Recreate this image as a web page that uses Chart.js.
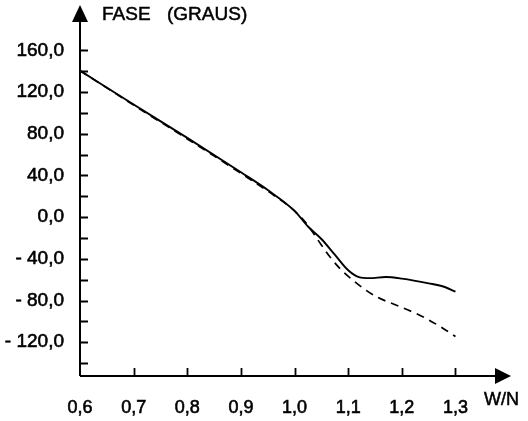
<!DOCTYPE html>
<html>
<head>
<meta charset="utf-8">
<script src="https://cdn.jsdelivr.net/npm/chart.js@4.4.1/dist/chart.umd.min.js"></script>
<style>
  body { margin: 0; background: #fff; }
  #wrap { width: 528px; height: 421px; }
</style>
</head>
<body>
<div id="wrap"><canvas id="faseChart" width="528" height="421"></canvas></div>
<script>
// frequency ratio W/N
const xTicks = [0.6, 0.7, 0.8, 0.9, 1.0, 1.1, 1.2, 1.3];
// phase ticks, every 20 (labels only every 40)
const yTicks = [-140, -120, -100, -80, -60, -40, -20, 0, 20, 40, 60, 80, 100, 120, 140, 160];

// solid curve
const solidX = [0.6, 0.7, 0.8, 0.9, 0.95, 1.0, 1.025, 1.05, 1.075, 1.1, 1.12, 1.14, 1.17, 1.2, 1.25, 1.28, 1.3];
const solidY = [140.5, 108, 76, 43, 26, 6, -9, -21, -36, -51, -57.5, -58.5, -57.5, -59, -63.5, -67, -71.5];
// dashed curve
const dashX = [0.6, 0.7, 0.8, 0.9, 0.95, 1.0, 1.025, 1.045, 1.065, 1.085, 1.11, 1.13, 1.155, 1.19, 1.235, 1.27, 1.3];
const dashY = [140.5, 107.5, 75, 42, 25, 6, -8, -23, -37.5, -49.5, -61, -69, -77, -84.5, -94.5, -104.5, -114.5];

function fmt(v) {
  var s = Math.abs(v).toFixed(1).replace('.', ',');
  return v < 0 ? '- ' + s : s;
}

const FONT = "'Liberation Sans', Arial, sans-serif";

// axes with arrows, inward tick marks, title texts
const axesPlugin = {
  id: 'axesPlugin',
  afterDraw: function(chart) {
    const c = chart.ctx;
    const xs = chart.scales.x, ys = chart.scales.y;
    const x0 = xs.getPixelForValue(0.6);
    const y0 = ys.getPixelForValue(ys.min);
    const top = chart.chartArea.top;
    const right = chart.chartArea.right;
    c.save();
    c.strokeStyle = '#000';
    c.fillStyle = '#000';
    c.lineWidth = 2;
    c.beginPath();
    c.moveTo(x0, y0); c.lineTo(x0, top + 14);
    c.moveTo(x0, y0); c.lineTo(right - 14, y0);
    c.stroke();
    // arrow heads
    c.beginPath();
    c.moveTo(x0, top); c.lineTo(x0 - 8, top + 17); c.lineTo(x0 + 8, top + 17); c.closePath();
    c.fill();
    c.beginPath();
    c.moveTo(right, y0); c.lineTo(right - 16, y0 - 8); c.lineTo(right - 16, y0 + 8); c.closePath();
    c.fill();
    // ticks (pointing inside)
    c.lineWidth = 1.8;
    c.beginPath();
    yTicks.forEach(function(v) {
      var py = Math.round(ys.getPixelForValue(v)) + 0.5;
      c.moveTo(x0 - 1, py); c.lineTo(x0 + 8, py);
    });
    xTicks.forEach(function(v) {
      if (v === 0.6) return;
      var px = Math.round(xs.getPixelForValue(v)) + 0.5;
      c.moveTo(px, y0); c.lineTo(px, y0 - 8);
    });
    c.stroke();
    // labels
    c.font = '19px ' + FONT;
    c.textBaseline = 'middle';
    c.textAlign = 'left';
    c.lineWidth = 0.5;
    c.fillText('FASE', x0 + 22, 15);
    c.strokeText('FASE', x0 + 22, 15);
    c.fillText('(GRAUS)', x0 + 87, 15);
    c.strokeText('(GRAUS)', x0 + 87, 15);
    c.font = '18px ' + FONT;
    c.fillText('W/N', right - 27, 400);
    c.strokeText('W/N', right - 27, 400);
    c.restore();
  }
};

function noPad(scale) {
  scale.paddingTop = 0;
  scale.paddingBottom = 0;
  scale.paddingLeft = 0;
  scale.paddingRight = 0;
}

const ctx = document.getElementById('faseChart');
new Chart(ctx, {
  type: 'line',
  data: {
    datasets: [{
      label: 'tracejada',
      data: dashX.map(function(x, i) { return {x: x, y: dashY[i]}; }),
      borderColor: '#000',
      borderWidth: 1.7,
      borderDash: [8, 6],
      pointRadius: 0,
      fill: false,
      cubicInterpolationMode: 'monotone'
    }, {
      label: 'continua',
      data: solidX.map(function(x, i) { return {x: x, y: solidY[i]}; }),
      borderColor: '#000',
      borderWidth: 1.9,
      pointRadius: 0,
      fill: false,
      cubicInterpolationMode: 'monotone'
    }]
  },
  options: {
    responsive: false,
    animation: false,
    layout: {
      padding: { top: 5, right: 17, left: 0, bottom: 0 }
    },
    scales: {
      x: {
        type: 'linear',
        min: 0.6,
        max: 1.4035,
        border: { display: false },
        grid: { display: false },
        afterBuildTicks: function(scale) {
          scale.ticks = xTicks.map(function(v) { return {value: v}; });
        },
        afterFit: function(scale) { scale.height = 45; noPad(scale); },
        ticks: {
          padding: 13,
          maxRotation: 0,
          autoSkip: false,
          color: '#000',
          textStrokeColor: '#000',
          textStrokeWidth: 0.6,
          font: { family: FONT, size: 18 },
          callback: function(v) { return fmt(v); }
        }
      },
      y: {
        type: 'linear',
        min: -152.4,
        max: 203.5,
        border: { display: false },
        grid: { display: false },
        afterBuildTicks: function(scale) {
          scale.ticks = yTicks.map(function(v) { return {value: v}; });
        },
        afterFit: function(scale) { scale.width = 80; noPad(scale); },
        ticks: {
          padding: 8,
          autoSkip: false,
          color: '#000',
          textStrokeColor: '#000',
          textStrokeWidth: 0.6,
          font: { family: FONT, size: 19 },
          callback: function(v) {
            if (v % 40 !== 0 || v < -120) return '';
            return fmt(v);
          }
        }
      }
    },
    plugins: {
      legend: { display: false },
      tooltip: { enabled: false }
    }
  },
  plugins: [axesPlugin]
});
</script>
</body>
</html>
